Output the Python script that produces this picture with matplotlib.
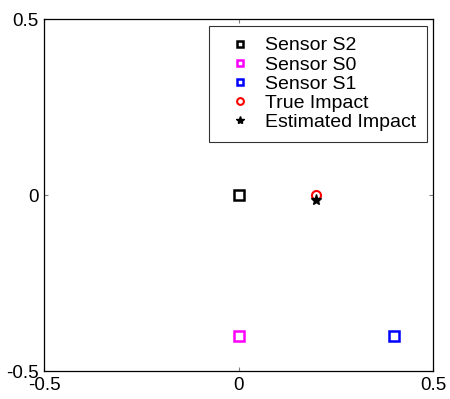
import matplotlib
matplotlib.use('Agg')
import matplotlib.pyplot as plt

plt.rcParams['font.family'] = ['Liberation Sans', 'DejaVu Sans']

# sensor and impact positions
sensor_names = ['Sensor S2', 'Sensor S0', 'Sensor S1']
sensor_x = [0.0, 0.0, 0.4]
sensor_y = [0.0, -0.4, -0.4]
sensor_colors = ['black', 'magenta', 'blue']
true_impact = (0.2, 0.0)
est_impact = (0.2, -0.015)

fig = plt.figure(figsize=(4.5, 3.99), dpi=100)
ax = fig.add_axes([44 / 450, 1 - 371 / 399, 389 / 450, 352 / 399])

for name, x, y, c in zip(sensor_names, sensor_x, sensor_y, sensor_colors):
    ax.plot(x, y, 's', markersize=6.5, markerfacecolor='none',
            markeredgecolor=c, markeredgewidth=1.8, label=name)
ax.plot(true_impact[0], true_impact[1], 'o', markersize=6.5, markerfacecolor='none',
        markeredgecolor='red', markeredgewidth=1.5, label='True Impact')
ax.plot(est_impact[0], est_impact[1], '*', markersize=8, color='black',
        label='Estimated Impact')

ax.set_xlim(-0.5, 0.5)
ax.set_ylim(-0.5, 0.5)
ax.set_xticks([-0.5, 0, 0.5])
ax.set_yticks([-0.5, 0, 0.5])
ax.set_xticklabels(['-0.5', '0', '0.5'])
ax.set_yticklabels(['-0.5', '0', '0.5'])
ax.tick_params(direction='in', length=3, width=0.8, color='gray',
               labelsize=13.5, top=True, right=True, pad=4)
for s in ax.spines.values():
    s.set_linewidth(0.9)

leg = ax.legend(loc='upper right', bbox_to_anchor=(0.985, 0.98), fontsize=14,
                frameon=True, fancybox=False, edgecolor='black',
                handletextpad=0.25, borderpad=0.55, labelspacing=0.08,
                handlelength=2.1, borderaxespad=0, markerscale=0.75)
leg.get_frame().set_linewidth(0.8)

fig.savefig('out.png', dpi=100)
